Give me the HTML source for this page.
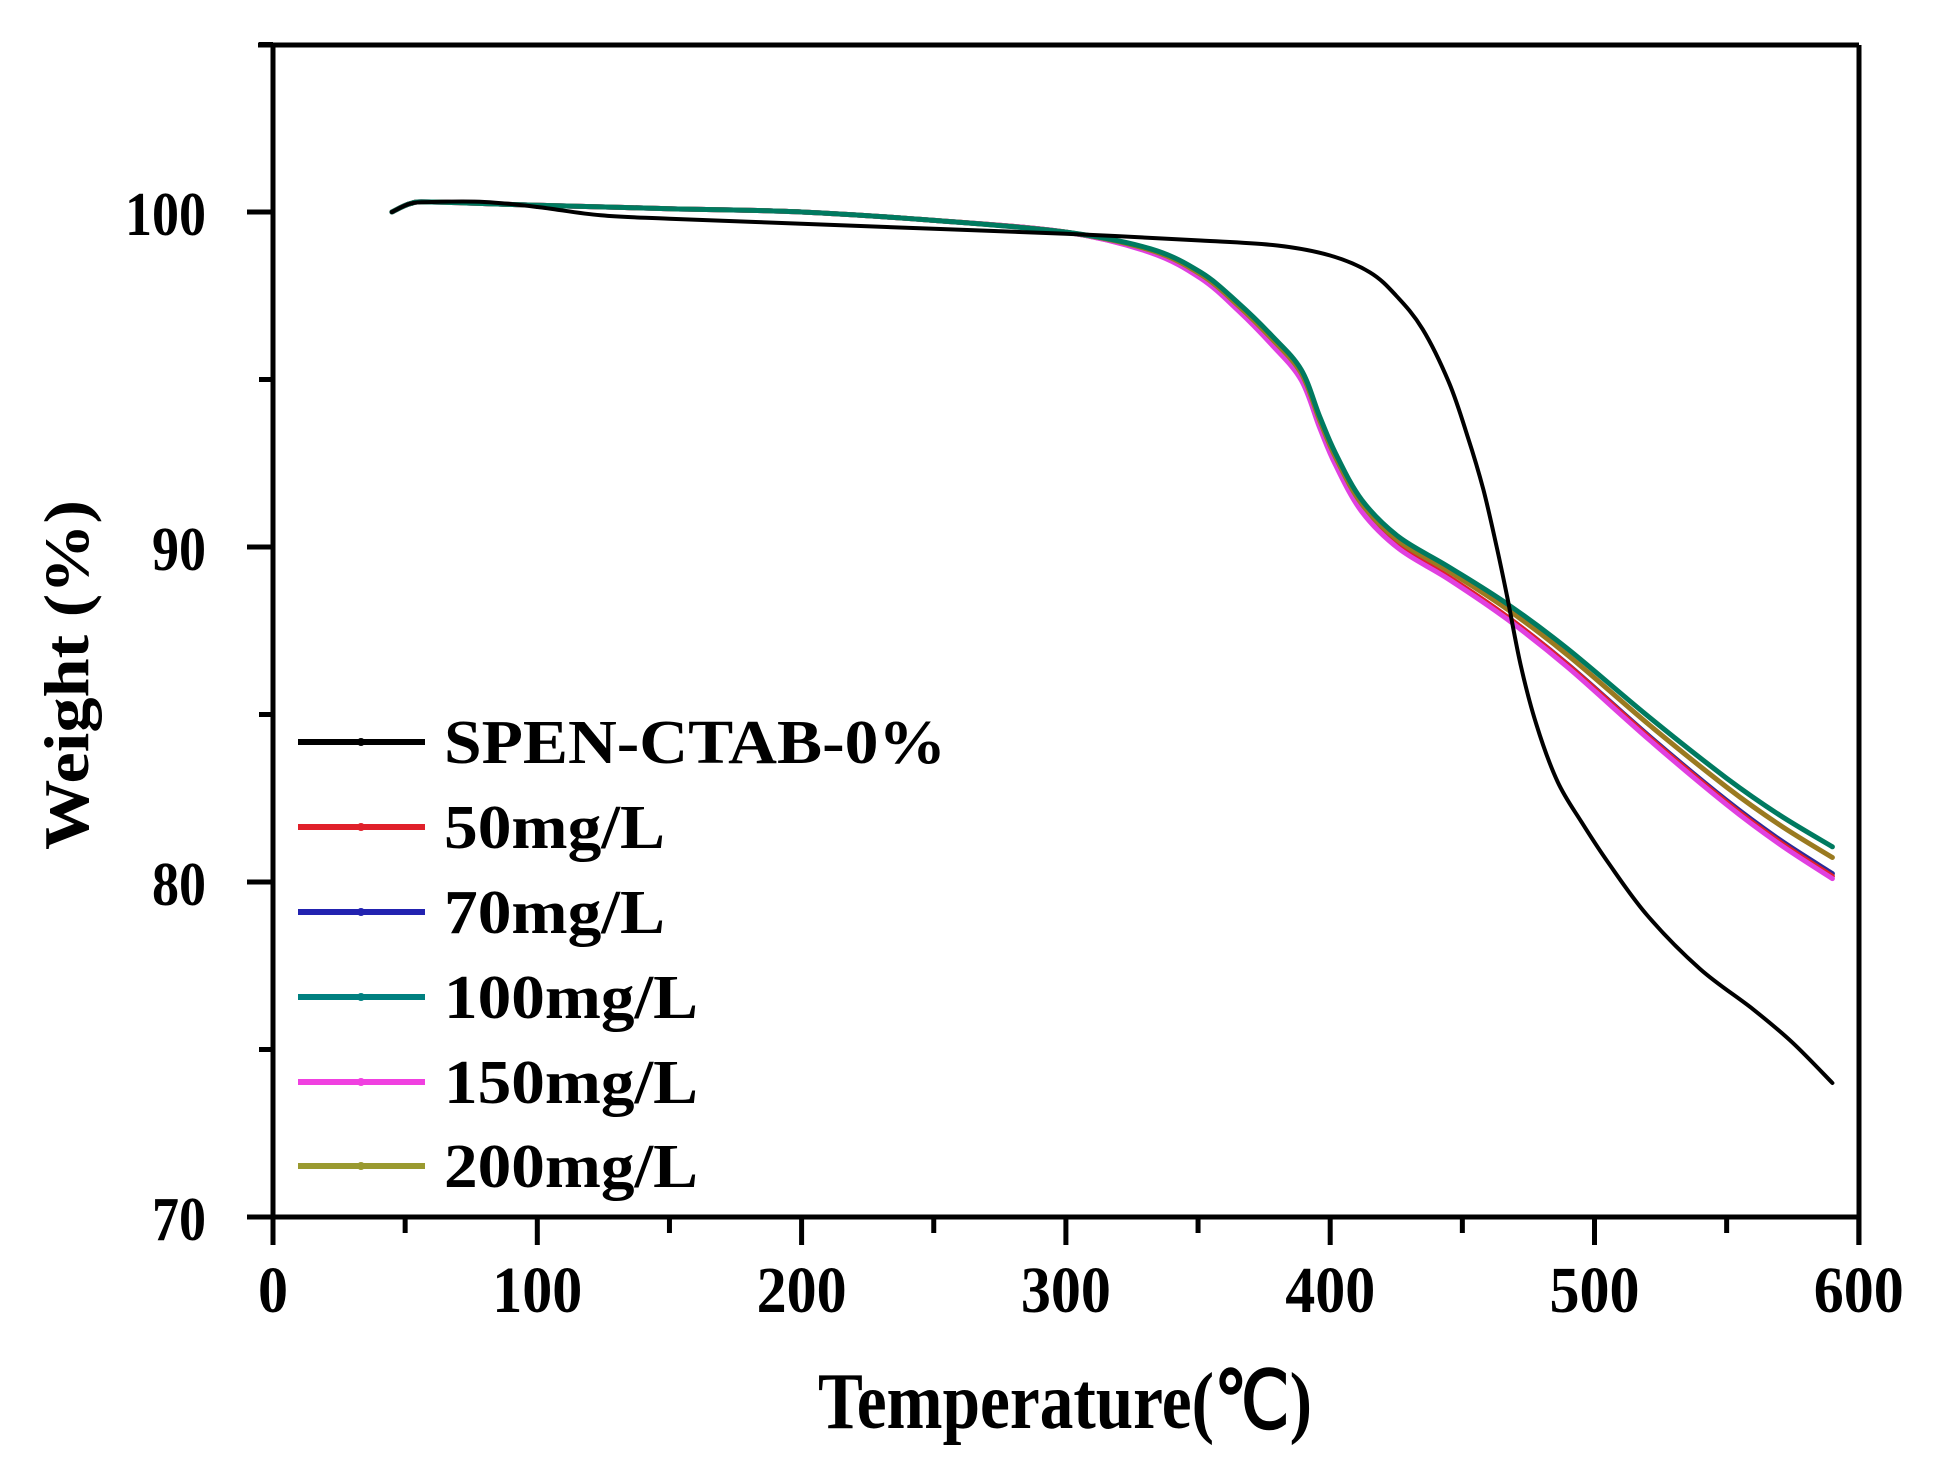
<!DOCTYPE html>
<html><head><meta charset="utf-8"><style>
html,body{margin:0;padding:0;background:#fff;}
svg{display:block;}
text{font-family:"Liberation Serif",serif;font-weight:bold;fill:#000;}
</style></head><body>
<svg id="s" width="1959" height="1483" viewBox="0 0 1959 1483" xmlns="http://www.w3.org/2000/svg">
<rect width="1959" height="1483" fill="#fff"/>
<g id="curves" fill="none" stroke-linejoin="round" stroke-linecap="round"></g>
<g stroke="#000" stroke-width="5" fill="none">
<line x1="258" y1="45" x2="1859" y2="45"/>
<line x1="273" y1="45" x2="273" y2="1217"/>
<line x1="1859" y1="45" x2="1859" y2="1245"/>
<line x1="247" y1="1217" x2="1859" y2="1217"/>
</g>
<g id="ticks" stroke="#000" stroke-width="5"></g>
<g font-size="62" text-anchor="end">
<text x="206" y="235" textLength="81" lengthAdjust="spacingAndGlyphs">100</text>
<text x="206" y="570" textLength="54" lengthAdjust="spacingAndGlyphs">90</text>
<text x="206" y="905" textLength="54" lengthAdjust="spacingAndGlyphs">80</text>
<text x="206" y="1240" textLength="54" lengthAdjust="spacingAndGlyphs">70</text>
</g>
<g font-size="66" text-anchor="middle" id="xl"></g>
<text x="818" y="1428" font-size="80" textLength="494" lengthAdjust="spacingAndGlyphs">Temperature(℃)</text>
<text transform="translate(88,850) rotate(-90)" x="0" y="0" font-size="64" textLength="350" lengthAdjust="spacingAndGlyphs">Weight (%)</text>
<g id="legend"></g>
</svg>
<script>
var NS="http://www.w3.org/2000/svg";
function px(x){return 273+2.643*x;}
function py(y){return 212+(100-y)*33.5;}
function el(n,a,p){var e=document.createElementNS(NS,n);for(var k in a)e.setAttribute(k,a[k]);p.appendChild(e);return e;}
var t=document.getElementById('ticks');
for(var x=0;x<=600;x+=50){var L=(x%100==0)?28:16;el('line',{x1:px(x),y1:1217,x2:px(x),y2:1217+L},t);}
for(var y=70;y<=105;y+=5){if(y==70)continue;var L=(y%10==0)?26:14;el('line',{x1:273-L,y1:py(y),x2:273,y2:py(y)},t);}
var xl=document.getElementById('xl');
for(var x=0;x<=600;x+=100){var s=String(x);var e=el('text',{x:px(x),y:1312,textLength:s.length*30,lengthAdjust:'spacingAndGlyphs'},xl);e.textContent=s;}
function path(pts){var P=pts.map(function(p){return [px(p[0]),py(p[1])];});
var d="M"+P[0][0].toFixed(1)+","+P[0][1].toFixed(1);
for(var i=0;i<P.length-1;i++){var p0=P[i-1]||P[i],p1=P[i],p2=P[i+1],p3=P[i+2]||p2;
var c1=[p1[0]+(p2[0]-p0[0])/6,p1[1]+(p2[1]-p0[1])/6],c2=[p2[0]-(p3[0]-p1[0])/6,p2[1]-(p3[1]-p1[1])/6];
d+=" C"+c1[0].toFixed(1)+","+c1[1].toFixed(1)+" "+c2[0].toFixed(1)+","+c2[1].toFixed(1)+" "+p2[0].toFixed(1)+","+p2[1].toFixed(1);}
return d;}
var black=[[45,100],[52,100.25],[60,100.3],[80,100.3],[100,100.15],[124,99.9],[150,99.8],[200,99.65],[250,99.5],[300,99.35],[351,99.15],[380,99.0],[400,98.7],[415,98.2],[425,97.5],[435,96.5],[445,94.9],[452,93.3],[458,91.7],[463,90],[467,88.5],[472,86.5],[478,84.7],[486,83.0],[495,81.8],[505,80.6],[520,79.0],[540,77.4],[560,76.2],[575,75.2],[590,74.0]];
function colored(off,endOff){
 var base=[[45,100],[52,100.25],[60,100.3],[100,100.2],[150,100.1],[200,100],[250,99.75],[300,99.4],[332,98.9],[351,98.2],[365,97.3],[378,96.3],[389,95.3],[396,93.9],[402,92.8],[412,91.4],[426,90.3],[445,89.4],[467,88.3],[490,86.95],[521,84.9],[550,83.1],[570,82.0],[590,81.05]];
 return base.map(function(p){var f=p[0]<300?0:Math.min(1,(p[0]-300)/100);var g=p[0]<440?0:(p[0]-440)/150;return [p[0],p[1]-off*f-endOff*g];});}
var series=[
 ['#2a2a9a',colored(0.3,0.5)],
 ['#e0202a',colored(0.28,0.6)],
 ['#e040e0',colored(0.35,0.6)],
 ['#9a7a20',colored(0.12,0.2)],
 ['#007a60',colored(0,0)]
];
var g=document.getElementById('curves');
series.forEach(function(s){el('path',{d:path(s[1]),stroke:s[0],'stroke-width':5},g);});
el('path',{d:path(black),stroke:'#000','stroke-width':4},g);
var leg=document.getElementById('legend');
var items=[['#000','SPEN-CTAB-0%',502],['#e0202a','50mg/L',221],['#2222b0','70mg/L',221],['#008080','100mg/L',254],['#f040e0','150mg/L',254],['#9a9a30','200mg/L',254]];
var ys=[742,827,912,997,1082,1166];
items.forEach(function(it,i){var y=ys[i];
 el('line',{x1:298,y1:y,x2:425,y2:y,stroke:it[0],'stroke-width':6},leg);
 el('circle',{cx:361,cy:y,r:4,fill:it[0]},leg);
 var e=el('text',{x:444,y:y+21,'font-size':62,textLength:it[2],lengthAdjust:'spacingAndGlyphs'},leg);e.textContent=it[1];});
</script>
</body></html>
